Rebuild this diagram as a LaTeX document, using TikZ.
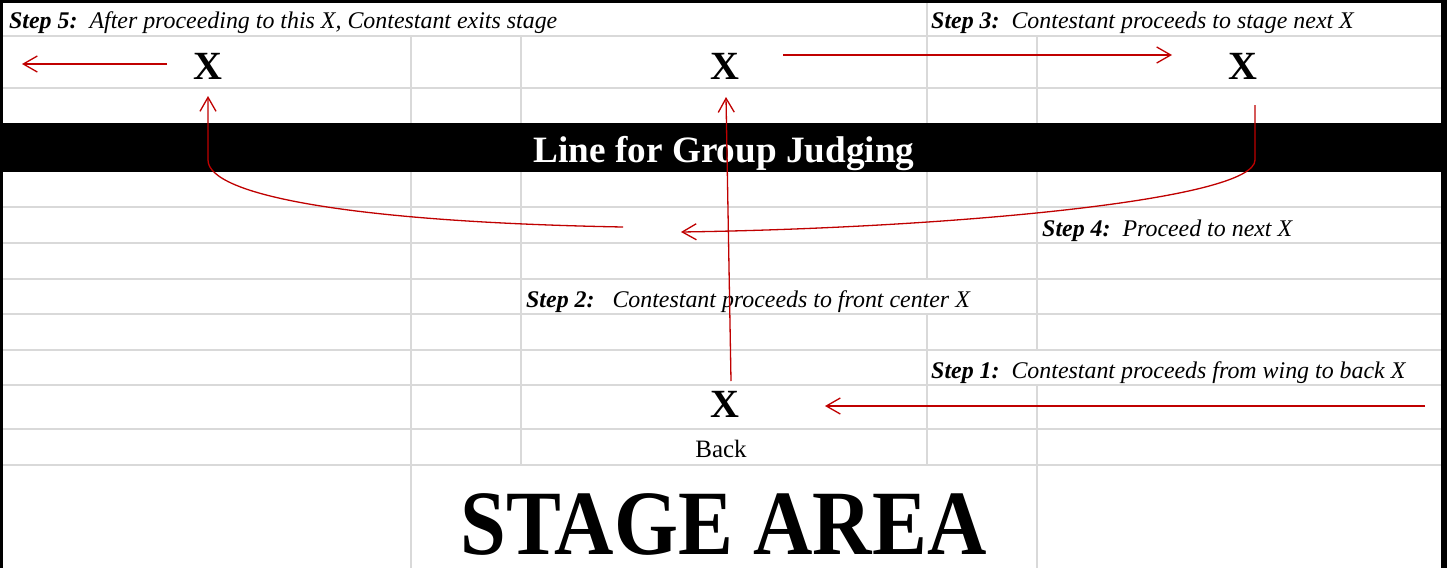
\documentclass[tikz,border=0pt]{standalone}
\usepackage{fontspec}
\setmainfont{Liberation Serif}
\usetikzlibrary{arrows.meta}
\definecolor{gridgray}{HTML}{D9D9D9}
\definecolor{arrowred}{HTML}{C00000}
\begin{document}
\begin{tikzpicture}[x=1pt,y=-1pt,
  gridline/.style={draw=gridgray,line width=1.5pt},
  steptext/.style={anchor=base west,inner sep=0pt,font=\fontsize{23.9}{28}\selectfont\itshape},
  bigx/.style={anchor=base,inner sep=0pt,font=\fontsize{40}{40}\selectfont\bfseries},
  route/.style={draw=arrowred,line width=1.3pt,-{Straight Barb[length=14pt,width=16pt,line width=1.3pt]}},
]
\useasboundingbox (0,0) rectangle (1447,568);
\fill[white] (0,0) rectangle (1447,568);
% horizontal grid lines
\foreach \yy in {36,88,207,243,279,314,350,385,429,465}
  \draw[gridline] (3,\yy) -- (1441,\yy);
% vertical grid lines
\draw[gridline] (411,36) -- (411,123) (411,172) -- (411,568);
\draw[gridline] (521,36) -- (521,123) (521,172) -- (521,465);
\draw[gridline] (927,2) -- (927,123) (927,172) -- (927,279) (927,314) -- (927,465);
\draw[gridline] (1037,36) -- (1037,123) (1037,172) -- (1037,350) (1037,385) -- (1037,568);
% black band
\fill[black] (3,123) rectangle (1441,172);
% borders
\fill[black] (0,0) rectangle (1447,2.5);
\fill[black] (0,0) rectangle (3,568);
\fill[black] (1441,0) rectangle (1447,568);

% texts
\node[steptext] (s5) at (9,28) {\textbf{Step 5:}\ \ After proceeding to this X, Contestant exits stage};
\node[steptext] (s3) at (931,28) {\textbf{Step 3:}\ \ Contestant proceeds to stage next X};
\node[steptext] (s4) at (1042,236) {\textbf{Step 4:}\ \ Proceed to next X};
\node[steptext] (s2) at (526,307) {\textbf{Step 2:}\ \ \ Contestant proceeds to front center X};
\node[steptext] (s1) at (931,378) {\textbf{Step 1:}\ \ Contestant proceeds from wing to back X};

\node[bigx] (xleft) at (208,79) {X};
\node[bigx] (xfront) at (725,79) {X};
\node[bigx] (xright) at (1243,79) {X};
\node[bigx] (xback) at (725,417) {X};
\node[anchor=base,inner sep=0pt,font=\fontsize{25}{25}\selectfont] (back) at (721,457) {Back};
\node[anchor=base,inner sep=0pt,text=white,font=\fontsize{37.2}{37}\selectfont\bfseries] (band) at (724,162) {Line for Group Judging};
\node[anchor=base,inner sep=0pt,text depth=0pt] (stage) at (723.5,554) {\scalebox{0.894}[1]{\fontsize{92}{92}\selectfont\bfseries STAGE AREA}};

% arrow end points
\coordinate (exitA) at (167,64);
\coordinate (exitB) at (22,64);
\coordinate (s3A) at (783,55);
\coordinate (s3B) at (1172,55);
\coordinate (s1A) at (1425,406);
\coordinate (s1B) at (825,406);
\coordinate (s2A) at (731,381);
\coordinate (s2B) at (726,97);
\coordinate (s4A) at (1255,105);
\coordinate (s4K) at (1255,160);
\coordinate (s4B) at (681,232);
\coordinate (s5A) at (623,227);
\coordinate (s5K) at (208,160);
\coordinate (s5B) at (208,96);

% arrows
\draw[route] (exitA) -- (exitB);
\draw[route] (s3A) -- (s3B);
\draw[route] (s1A) -- (s1B);
\draw[route] (s2A) -- (s2B);
\draw[route] (s4A) -- (s4K) .. controls (1255,200) and (950,228) .. (s4B);
\draw[route] (s5A) .. controls (350,222) and (208,195) .. (s5K) -- (s5B);
\end{tikzpicture}
\end{document}
